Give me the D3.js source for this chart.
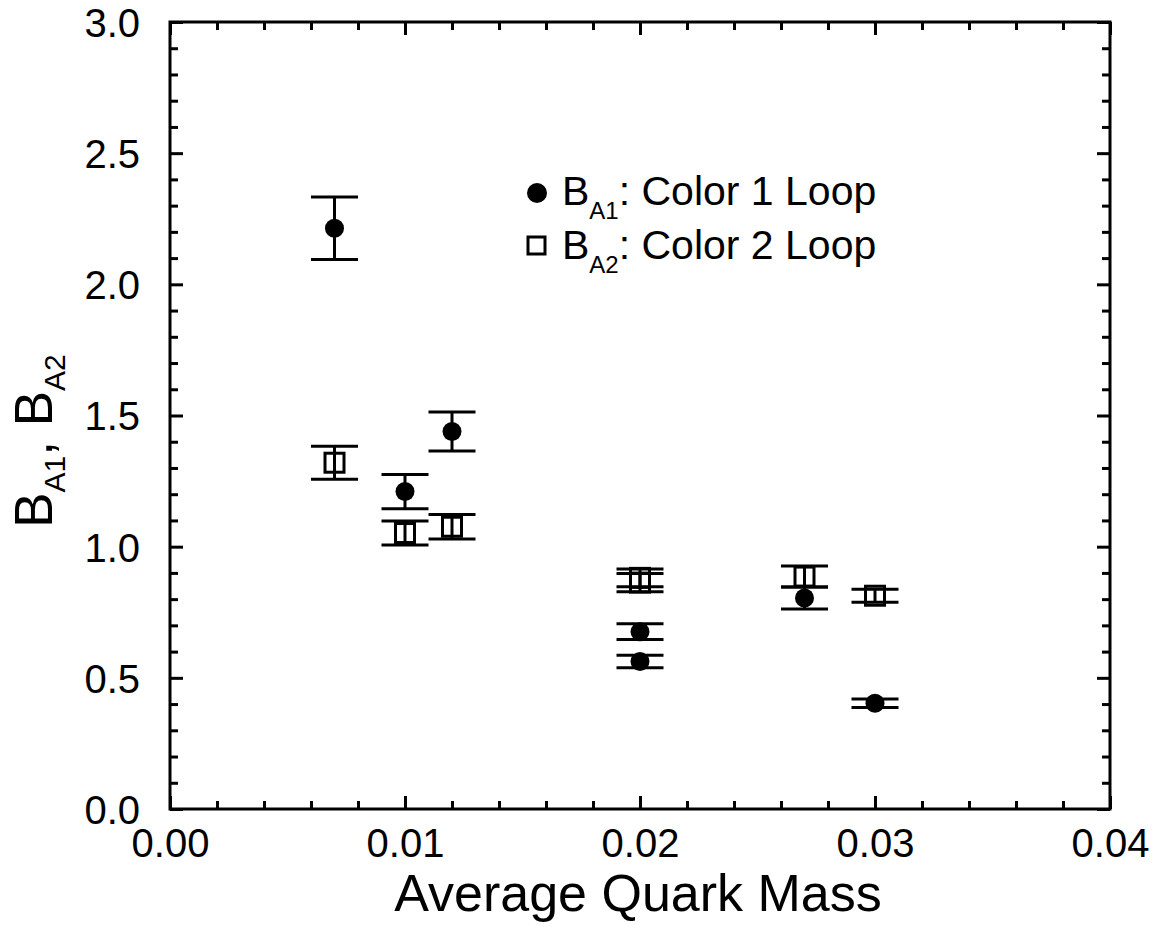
<!DOCTYPE html>
<html>
<head>
<meta charset="utf-8">
<script src="https://cdn.jsdelivr.net/npm/d3@7"></script>
<style>
  html, body { margin: 0; padding: 0; background: #fff; }
  svg { display: block; }
  text { font-family: "Liberation Sans", Arial, Helvetica, sans-serif; fill: #000; }
</style>
</head>
<body>
<svg id="chart" width="1159" height="929"></svg>
<script>
// ---- data ----
const mass      = [0.007, 0.010, 0.012, 0.020, 0.020, 0.027, 0.030];
const bA1       = [2.214, 1.210, 1.439, 0.676, 0.562, 0.804, 0.403];
const bA1Err    = [0.119, 0.065, 0.074, 0.030, 0.024, 0.042, 0.016];
const bA2       = [1.320, 1.052, 1.076, 0.881, 0.863, 0.886, 0.813];
const bA2Err    = [0.063, 0.046, 0.047, 0.034, 0.035, 0.040, 0.025];
const xTicks    = [0.00, 0.01, 0.02, 0.03, 0.04];
const xTickLabels = ["0.00", "0.01", "0.02", "0.03", "0.04"];
const yTicks    = [0.0, 0.5, 1.0, 1.5, 2.0, 2.5, 3.0];
const yTickLabels = ["0.0", "0.5", "1.0", "1.5", "2.0", "2.5", "3.0"];
const xTitle = "Average Quark Mass";
const legendLabels = [
  { main: "B", sub: "A1", rest: ": Color 1 Loop", symbol: "circle" },
  { main: "B", sub: "A2", rest: ": Color 2 Loop", symbol: "square" }
];

// ---- layout ----
const svg = d3.select("#chart");
const m = { left: 170, top: 22, right: 49, bottom: 120 };
const W = 1159 - m.left - m.right;  // 940
const H = 929 - m.top - m.bottom;   // 787

const x = d3.scaleLinear().domain([0, 0.04]).range([0, W]);
const y = d3.scaleLinear().domain([0, 3]).range([H, 0]);

const g = svg.append("g").attr("transform", `translate(${m.left},${m.top})`);

const AX_W = 3;
const MAJ = 13, MIN = 8;

// minor tick arrays
const xMinor = d3.range(0, 41, 2).map(d => d / 1000).filter(d => !xTicks.some(t => Math.abs(t - d) < 1e-9));
const yMinor = d3.range(0, 31, 1).map(d => d / 10).filter(d => !yTicks.some(t => Math.abs(t - d) < 1e-9));

function styleAxis(sel) {
  sel.select(".domain").remove();
  sel.selectAll(".tick line").attr("stroke", "#000").attr("stroke-width", AX_W);
}

// bottom axis (major with labels)
g.append("g").attr("transform", `translate(0,${H})`)
  .call(d3.axisBottom(x).tickValues(xTicks).tickSizeInner(-MAJ).tickSizeOuter(0).tickPadding(0)
    .tickFormat((d, i) => xTickLabels[i]))
  .call(styleAxis)
  .call(s => s.selectAll(".tick text").attr("font-size", 40).attr("y", 48).attr("dy", 0));
g.append("g").attr("transform", `translate(0,${H})`)
  .call(d3.axisBottom(x).tickValues(xMinor).tickSize(-MIN).tickFormat(""))
  .call(styleAxis);
// top axis
g.append("g")
  .call(d3.axisTop(x).tickValues(xTicks).tickSize(-MAJ).tickFormat(""))
  .call(styleAxis);
g.append("g")
  .call(d3.axisTop(x).tickValues(xMinor).tickSize(-MIN).tickFormat(""))
  .call(styleAxis);
// left axis
g.append("g")
  .call(d3.axisLeft(y).tickValues(yTicks).tickSizeInner(-MAJ).tickSizeOuter(0).tickPadding(0)
    .tickFormat((d, i) => yTickLabels[i]))
  .call(styleAxis)
  .call(s => s.selectAll(".tick text").attr("font-size", 40).attr("x", -30).attr("dy", "0.36em"));
g.append("g")
  .call(d3.axisLeft(y).tickValues(yMinor).tickSize(-MIN).tickFormat(""))
  .call(styleAxis);
// right axis
g.append("g").attr("transform", `translate(${W},0)`)
  .call(d3.axisRight(y).tickValues(yTicks).tickSize(-MAJ).tickFormat(""))
  .call(styleAxis);
g.append("g").attr("transform", `translate(${W},0)`)
  .call(d3.axisRight(y).tickValues(yMinor).tickSize(-MIN).tickFormat(""))
  .call(styleAxis);

// frame
g.append("rect").attr("x", 0).attr("y", 0).attr("width", W).attr("height", H)
  .attr("fill", "none").attr("stroke", "#000").attr("stroke-width", AX_W);

// ---- data marks ----
const CAP = 23.5;
const rows1 = mass.map((d, i) => ({ x: d, v: bA1[i], e: bA1Err[i] }));
const rows2 = mass.map((d, i) => ({ x: d, v: bA2[i], e: bA2Err[i] }));

function errorBars(rows, cls) {
  const eb = g.append("g").attr("class", cls).attr("stroke", "#000").attr("stroke-width", 3);
  rows.forEach(r => {
    const cx = x(r.x);
    eb.append("line").attr("x1", cx).attr("x2", cx).attr("y1", y(r.v + r.e)).attr("y2", y(r.v - r.e));
    eb.append("line").attr("x1", cx - CAP).attr("x2", cx + CAP).attr("y1", y(r.v + r.e)).attr("y2", y(r.v + r.e));
    eb.append("line").attr("x1", cx - CAP).attr("x2", cx + CAP).attr("y1", y(r.v - r.e)).attr("y2", y(r.v - r.e));
  });
}

errorBars(rows2, "eb2");
const SQ = 19;
g.append("g").selectAll("rect").data(rows2).join("rect")
  .attr("x", d => x(d.x) - SQ / 2).attr("y", d => y(d.v) - SQ / 2)
  .attr("width", SQ).attr("height", SQ)
  .attr("fill", "none").attr("stroke", "#000").attr("stroke-width", 3);

errorBars(rows1, "eb1");
g.append("g").selectAll("circle").data(rows1).join("circle")
  .attr("cx", d => x(d.x)).attr("cy", d => y(d.v)).attr("r", 9.5).attr("fill", "#000");

// ---- legend ----
const leg = svg.append("g");
const legRows = [205, 259];
legendLabels.forEach((L, i) => {
  const by = legRows[i];
  if (L.symbol === "circle") {
    leg.append("circle").attr("cx", 537).attr("cy", by - 12).attr("r", 10).attr("fill", "#000");
  } else {
    leg.append("rect").attr("x", 528).attr("y", by - 22).attr("width", 17).attr("height", 17)
      .attr("fill", "none").attr("stroke", "#000").attr("stroke-width", 3);
  }
  const t = leg.append("text").attr("x", 562).attr("y", by).attr("font-size", 41);
  t.append("tspan").text(L.main);
  t.append("tspan").attr("font-size", 24).attr("dy", 14).text(L.sub);
  t.append("tspan").attr("dy", -14).text(L.rest);
});

// ---- axis titles ----
svg.append("text").attr("x", m.left + W / 2 - 2).attr("y", 911)
  .attr("text-anchor", "middle").attr("font-size", 52).text(xTitle);

const yt = svg.append("text").attr("transform", "translate(52,441) rotate(-90)")
  .attr("text-anchor", "middle").attr("font-size", 53);
yt.append("tspan").text("B");
yt.append("tspan").attr("font-size", 30).attr("dy", 13).text("A1");
yt.append("tspan").attr("dy", -13).text(", B");
yt.append("tspan").attr("font-size", 30).attr("dy", 13).text("A2");
</script>
</body>
</html>
